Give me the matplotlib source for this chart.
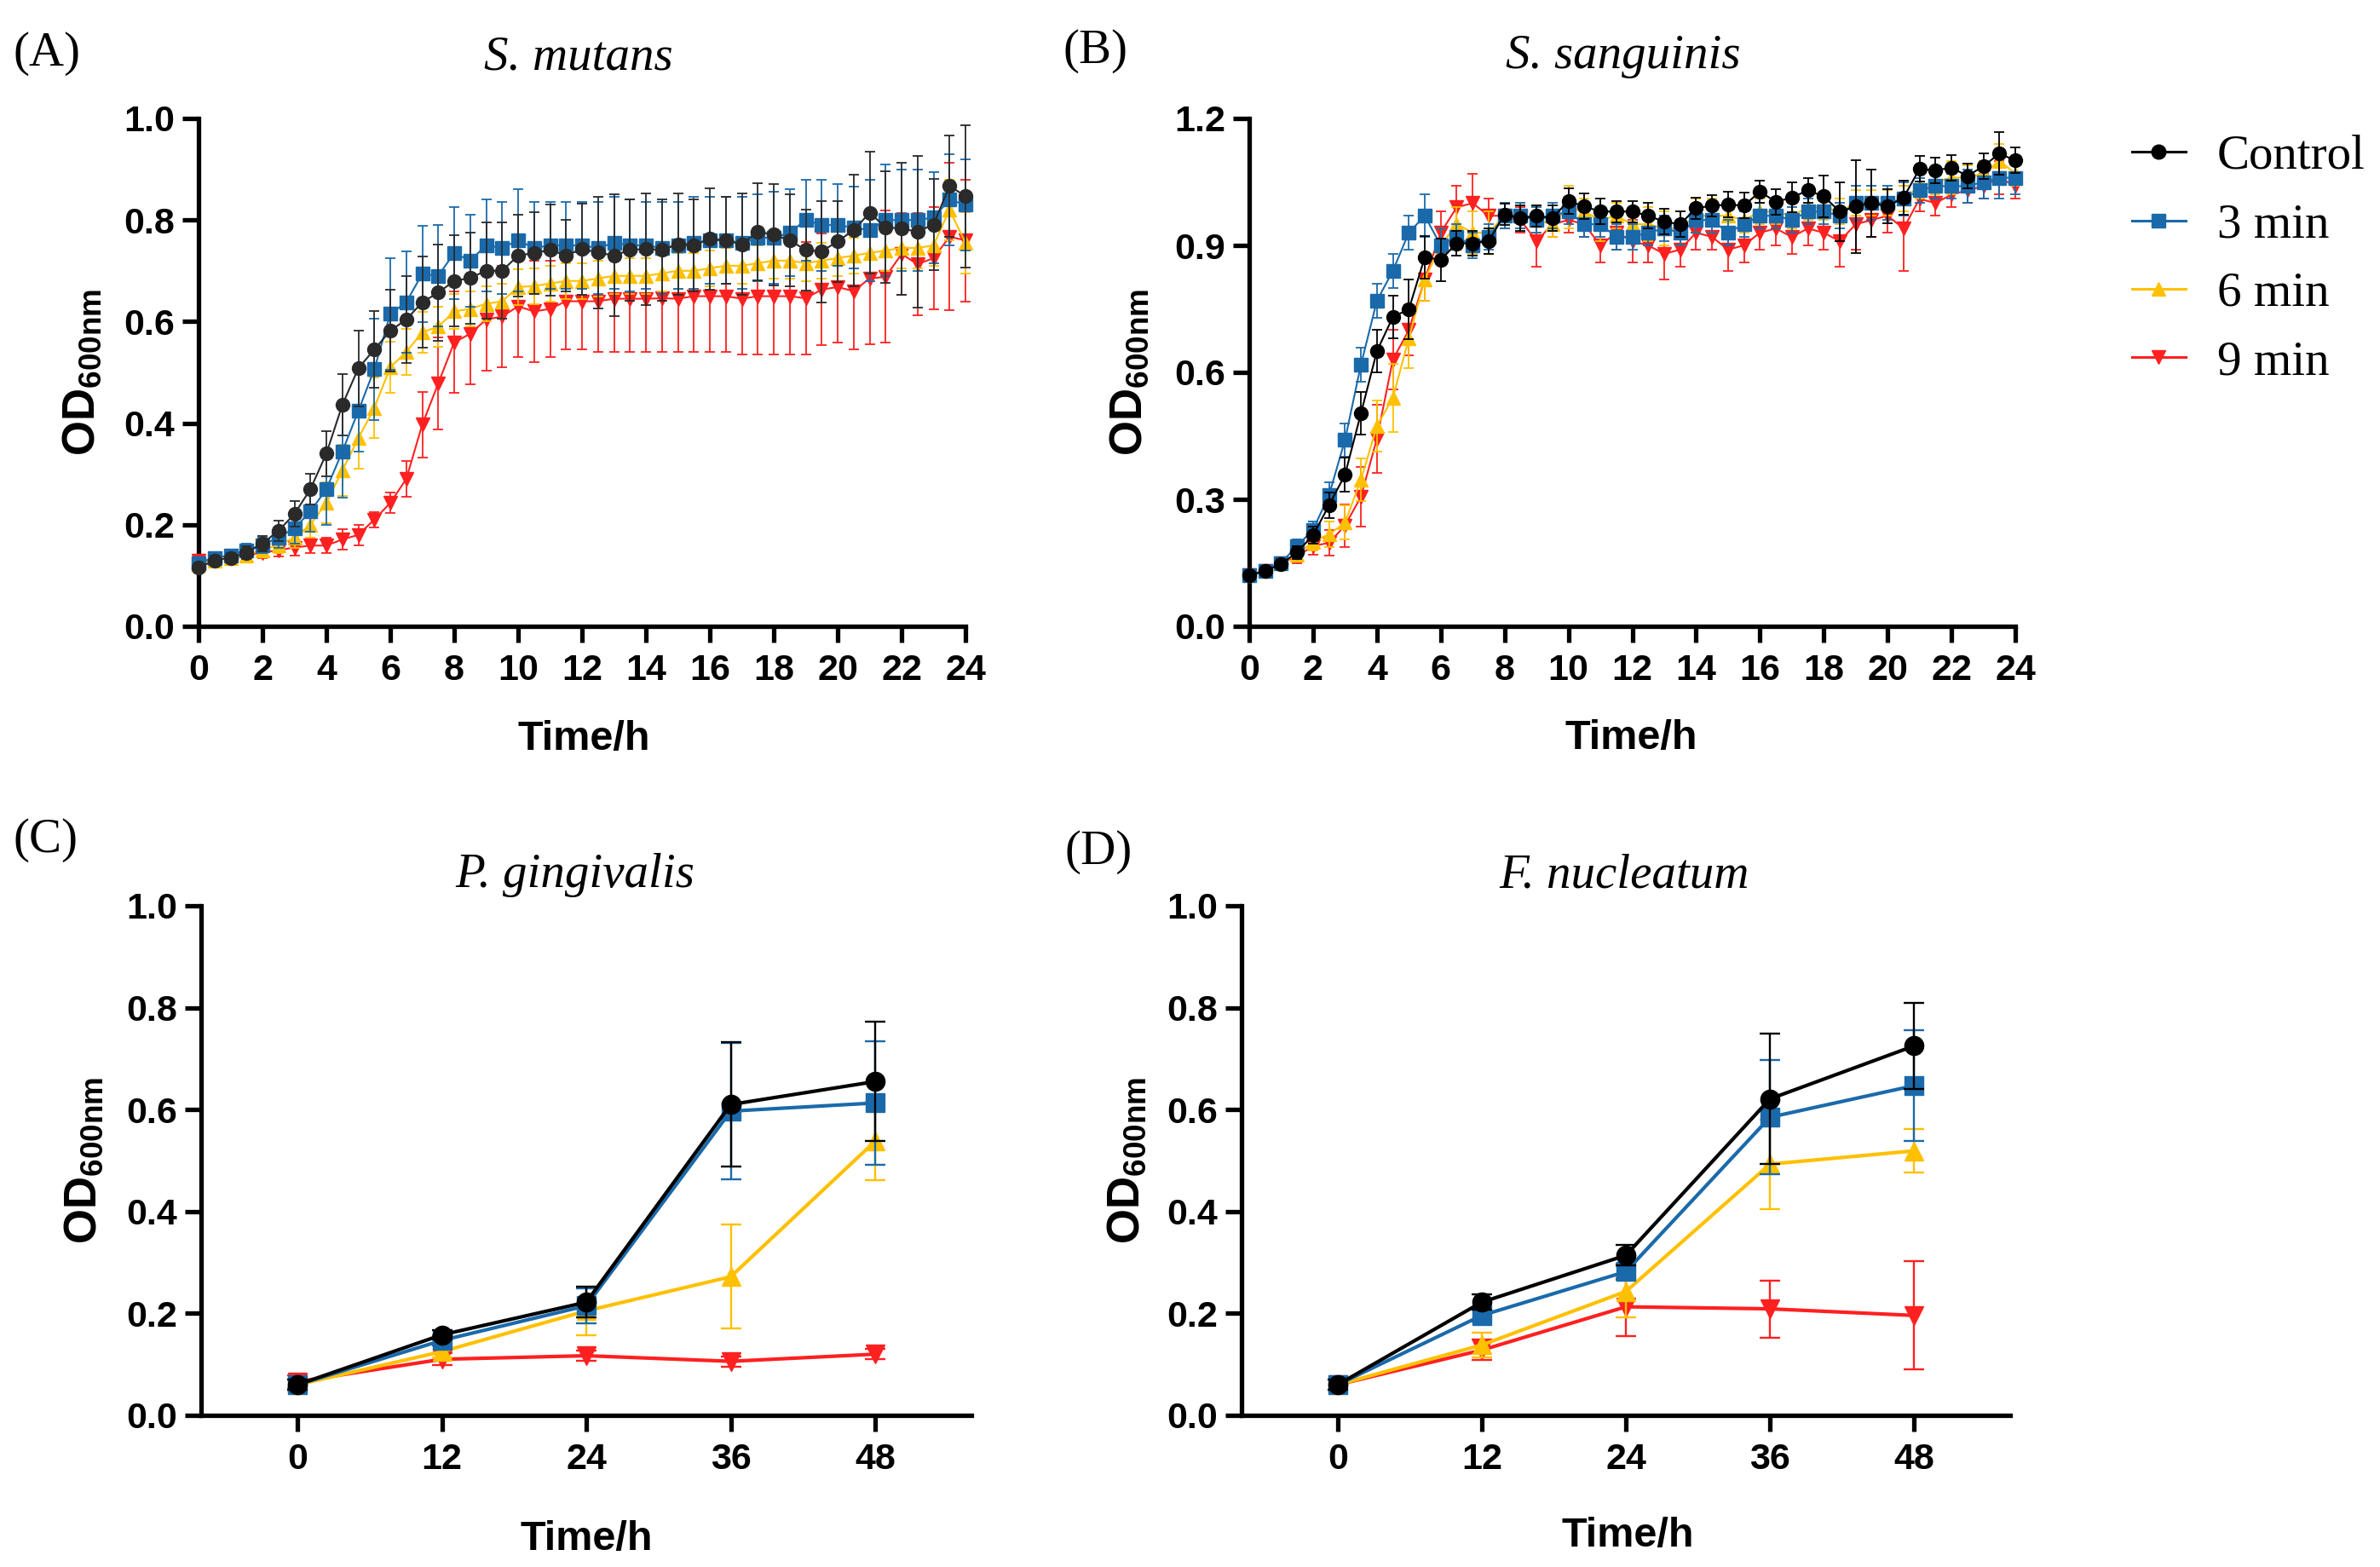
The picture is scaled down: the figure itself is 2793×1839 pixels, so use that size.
import matplotlib
matplotlib.use("Agg")
import matplotlib.pyplot as plt
from matplotlib.lines import Line2D
from matplotlib.ticker import FormatStrFormatter

SERIES = ["Control", "3 min", "6 min", "9 min"]
COLORS = ["#000000", "#1a6aab", "#ffc000", "#ff2020"]
MARKERS = ["o", "s", "^", "v"]

# sampling times (h)
hours_ab = [0, 0.5, 1, 1.5, 2, 2.5, 3, 3.5, 4, 4.5, 5, 5.5, 6, 6.5, 7, 7.5, 8, 8.5, 9, 9.5,
            10, 10.5, 11, 11.5, 12, 12.5, 13, 13.5, 14, 14.5, 15, 15.5, 16, 16.5, 17, 17.5,
            18, 18.5, 19, 19.5, 20, 20.5, 21, 21.5, 22, 22.5, 23, 23.5, 24]
hours_cd = [0, 12, 24, 36, 48]

# (A) S. mutans
mut_ctrl = [0.115, 0.130, 0.135, 0.145, 0.163, 0.188, 0.221, 0.270, 0.340, 0.436,
            0.508, 0.545, 0.582, 0.604, 0.638, 0.657, 0.680, 0.686, 0.700, 0.700,
            0.730, 0.735, 0.741, 0.730, 0.743, 0.736, 0.730, 0.741, 0.743, 0.741,
            0.752, 0.750, 0.763, 0.760, 0.752, 0.777, 0.771, 0.760, 0.741, 0.738,
            0.758, 0.780, 0.814, 0.786, 0.783, 0.777, 0.791, 0.867, 0.847]
mut_ctrl_sd = [0.010, 0.010, 0.010, 0.012, 0.015, 0.020, 0.025, 0.030, 0.045, 0.060,
               0.075, 0.075, 0.080, 0.085, 0.090, 0.095, 0.090, 0.090, 0.095, 0.095,
               0.080, 0.080, 0.090, 0.070, 0.090, 0.110, 0.120, 0.100, 0.110, 0.100,
               0.100, 0.090, 0.100, 0.085, 0.100, 0.095, 0.100, 0.090, 0.080, 0.100,
               0.080, 0.110, 0.120, 0.110, 0.130, 0.150, 0.090, 0.100, 0.140]
mut_3 = [0.125, 0.135, 0.140, 0.150, 0.160, 0.175, 0.193, 0.226, 0.270, 0.344,
         0.424, 0.506, 0.615, 0.638, 0.694, 0.690, 0.735, 0.720, 0.750, 0.745,
         0.760, 0.745, 0.750, 0.750, 0.750, 0.745, 0.755, 0.750, 0.750, 0.745,
         0.750, 0.755, 0.760, 0.760, 0.755, 0.765, 0.765, 0.775, 0.800, 0.790,
         0.790, 0.785, 0.780, 0.800, 0.800, 0.800, 0.805, 0.840, 0.830]
mut_3_sd = [0.010, 0.010, 0.010, 0.012, 0.015, 0.020, 0.030, 0.040, 0.070, 0.090,
            0.080, 0.100, 0.110, 0.100, 0.095, 0.100, 0.090, 0.090, 0.090, 0.090,
            0.100, 0.090, 0.085, 0.085, 0.085, 0.090, 0.090, 0.090, 0.085, 0.090,
            0.085, 0.090, 0.085, 0.085, 0.090, 0.085, 0.090, 0.085, 0.080, 0.090,
            0.080, 0.080, 0.100, 0.110, 0.100, 0.100, 0.090, 0.090, 0.090]
mut_6 = [0.120, 0.130, 0.135, 0.140, 0.150, 0.160, 0.175, 0.200, 0.243, 0.307,
         0.370, 0.430, 0.510, 0.540, 0.579, 0.590, 0.620, 0.625, 0.635, 0.640,
         0.668, 0.670, 0.675, 0.680, 0.680, 0.685, 0.690, 0.690, 0.690, 0.695,
         0.700, 0.700, 0.705, 0.710, 0.710, 0.715, 0.720, 0.720, 0.715, 0.720,
         0.725, 0.730, 0.735, 0.740, 0.745, 0.745, 0.750, 0.820, 0.755]
mut_6_sd = [0.010, 0.010, 0.010, 0.010, 0.012, 0.015, 0.020, 0.025, 0.040, 0.050,
            0.060, 0.060, 0.050, 0.045, 0.040, 0.040, 0.035, 0.035, 0.035, 0.035,
            0.035, 0.035, 0.035, 0.035, 0.035, 0.035, 0.035, 0.035, 0.035, 0.035,
            0.035, 0.035, 0.035, 0.035, 0.035, 0.035, 0.035, 0.035, 0.035, 0.035,
            0.035, 0.035, 0.040, 0.040, 0.040, 0.040, 0.040, 0.060, 0.060]
mut_9 = [0.130, 0.130, 0.135, 0.140, 0.145, 0.150, 0.155, 0.159, 0.159, 0.171,
         0.180, 0.210, 0.243, 0.290, 0.397, 0.478, 0.559, 0.576, 0.604, 0.610,
         0.630, 0.620, 0.625, 0.640, 0.640, 0.640, 0.645, 0.645, 0.645, 0.646,
         0.645, 0.650, 0.650, 0.650, 0.645, 0.650, 0.650, 0.650, 0.646, 0.663,
         0.668, 0.660, 0.685, 0.688, 0.733, 0.713, 0.725, 0.767, 0.760]
mut_9_sd = [0.010, 0.010, 0.010, 0.010, 0.010, 0.012, 0.015, 0.015, 0.015, 0.020,
            0.020, 0.015, 0.020, 0.035, 0.065, 0.090, 0.100, 0.100, 0.100, 0.100,
            0.100, 0.100, 0.095, 0.095, 0.095, 0.100, 0.105, 0.105, 0.105, 0.105,
            0.105, 0.110, 0.110, 0.110, 0.110, 0.115, 0.115, 0.115, 0.110, 0.110,
            0.110, 0.115, 0.130, 0.130, 0.080, 0.100, 0.100, 0.145, 0.120]

# (B) S. sanguinis
san_ctrl = [0.121, 0.131, 0.147, 0.175, 0.215, 0.286, 0.358, 0.503, 0.650, 0.731,
            0.749, 0.872, 0.866, 0.905, 0.905, 0.910, 0.973, 0.965, 0.970, 0.965,
            1.005, 0.992, 0.980, 0.980, 0.980, 0.970, 0.956, 0.950, 0.988, 0.994,
            0.996, 0.994, 1.027, 1.003, 1.013, 1.030, 1.016, 0.980, 0.992, 1.000,
            0.992, 1.013, 1.081, 1.077, 1.084, 1.064, 1.087, 1.117, 1.101]
san_ctrl_sd = [0.005, 0.008, 0.010, 0.015, 0.020, 0.030, 0.040, 0.050, 0.050, 0.050,
               0.070, 0.050, 0.050, 0.030, 0.030, 0.030, 0.025, 0.030, 0.025, 0.030,
               0.030, 0.030, 0.030, 0.025, 0.025, 0.030, 0.030, 0.030, 0.025, 0.025,
               0.030, 0.030, 0.027, 0.030, 0.035, 0.030, 0.050, 0.070, 0.110, 0.080,
               0.040, 0.040, 0.030, 0.030, 0.030, 0.030, 0.030, 0.050, 0.030]
san_3 = [0.120, 0.130, 0.150, 0.190, 0.228, 0.310, 0.440, 0.618, 0.769, 0.840,
         0.930, 0.970, 0.900, 0.920, 0.900, 0.920, 0.970, 0.970, 0.960, 0.970,
         0.980, 0.950, 0.950, 0.920, 0.920, 0.930, 0.940, 0.930, 0.960, 0.960,
         0.930, 0.950, 0.970, 0.970, 0.960, 0.980, 0.980, 0.970, 1.000, 1.000,
         1.000, 1.010, 1.030, 1.040, 1.040, 1.040, 1.050, 1.060, 1.060]
san_3_sd = [0.005, 0.008, 0.010, 0.015, 0.020, 0.030, 0.040, 0.040, 0.040, 0.040,
            0.040, 0.050, 0.040, 0.030, 0.030, 0.030, 0.030, 0.030, 0.030, 0.030,
            0.030, 0.030, 0.030, 0.030, 0.030, 0.030, 0.030, 0.030, 0.030, 0.030,
            0.030, 0.030, 0.030, 0.030, 0.030, 0.030, 0.030, 0.030, 0.040, 0.040,
            0.040, 0.040, 0.030, 0.030, 0.030, 0.040, 0.040, 0.050, 0.040]
san_6 = [0.120, 0.130, 0.150, 0.170, 0.200, 0.217, 0.245, 0.346, 0.473, 0.540,
         0.680, 0.820, 0.900, 0.950, 0.930, 0.930, 0.970, 0.970, 0.960, 0.950,
         0.990, 0.980, 0.960, 0.970, 0.950, 0.950, 0.940, 0.940, 0.970, 0.970,
         0.970, 0.960, 0.980, 0.980, 0.970, 0.990, 0.990, 0.980, 1.000, 1.000,
         1.000, 1.010, 1.040, 1.050, 1.060, 1.060, 1.070, 1.100, 1.070]
san_6_sd = [0.005, 0.008, 0.010, 0.015, 0.020, 0.030, 0.040, 0.050, 0.060, 0.080,
            0.070, 0.050, 0.040, 0.040, 0.050, 0.050, 0.030, 0.030, 0.030, 0.030,
            0.050, 0.030, 0.050, 0.030, 0.040, 0.040, 0.040, 0.040, 0.040, 0.040,
            0.030, 0.030, 0.030, 0.030, 0.030, 0.030, 0.030, 0.030, 0.030, 0.030,
            0.030, 0.030, 0.030, 0.030, 0.040, 0.030, 0.030, 0.040, 0.030]
san_9 = [0.120, 0.130, 0.150, 0.165, 0.190, 0.197, 0.238, 0.306, 0.443, 0.630,
         0.700, 0.820, 0.930, 0.990, 1.000, 0.970, 0.970, 0.960, 0.910, 0.950,
         0.960, 0.950, 0.900, 0.930, 0.910, 0.900, 0.880, 0.890, 0.930, 0.920,
         0.890, 0.900, 0.930, 0.940, 0.920, 0.940, 0.930, 0.910, 0.950, 0.960,
         0.970, 0.940, 1.010, 1.000, 1.020, 1.030, 1.040, 1.060, 1.040]
san_9_sd = [0.005, 0.008, 0.010, 0.015, 0.020, 0.030, 0.050, 0.070, 0.080, 0.070,
            0.060, 0.050, 0.050, 0.050, 0.070, 0.040, 0.030, 0.030, 0.060, 0.030,
            0.030, 0.030, 0.040, 0.040, 0.050, 0.040, 0.060, 0.040, 0.040, 0.030,
            0.050, 0.040, 0.040, 0.040, 0.040, 0.040, 0.040, 0.060, 0.060, 0.040,
            0.040, 0.100, 0.030, 0.030, 0.030, 0.030, 0.030, 0.040, 0.030]

# (C) P. gingivalis
gin_ctrl = [0.060, 0.158, 0.222, 0.610, 0.655]
gin_ctrl_sd = [0.010, 0.010, 0.030, 0.122, 0.117]
gin_3 = [0.060, 0.147, 0.215, 0.597, 0.613]
gin_3_sd = [0.010, 0.010, 0.035, 0.133, 0.121]
gin_6 = [0.060, 0.125, 0.205, 0.272, 0.538]
gin_6_sd = [0.010, 0.012, 0.048, 0.102, 0.077]
gin_9 = [0.066, 0.110, 0.117, 0.106, 0.120]
gin_9_sd = [0.012, 0.012, 0.010, 0.010, 0.010]

# (D) F. nucleatum
nuc_ctrl = [0.060, 0.222, 0.314, 0.621, 0.725]
nuc_ctrl_sd = [0.010, 0.015, 0.020, 0.128, 0.085]
nuc_3 = [0.060, 0.196, 0.282, 0.585, 0.647]
nuc_3_sd = [0.010, 0.012, 0.016, 0.112, 0.109]
nuc_6 = [0.060, 0.138, 0.243, 0.493, 0.519]
nuc_6_sd = [0.010, 0.025, 0.050, 0.088, 0.043]
nuc_9 = [0.060, 0.128, 0.213, 0.209, 0.196]
nuc_9_sd = [0.010, 0.020, 0.057, 0.056, 0.106]

SANS = "Liberation Sans"
SERIF = "Liberation Serif"
plt.rcParams["font.family"] = SANS
plt.rcParams["font.weight"] = "bold"
plt.rcParams["mathtext.fontset"] = "custom"
plt.rcParams["mathtext.bf"] = "Liberation Sans:bold"
plt.rcParams["mathtext.rm"] = "Liberation Sans:bold"

W, H = 2793, 1839
fig = plt.figure(figsize=(W / 100, H / 100), dpi=100)


def px_axes(left, right, top, bottom):
    return fig.add_axes([left / W, 1 - bottom / H, (right - left) / W, (bottom - top) / H])


def style_axes(ax, xticks, yticks, xlim, ylim):
    ax.set_xlim(*xlim)
    ax.set_ylim(*ylim)
    ax.set_xticks(xticks)
    ax.set_yticks(yticks)
    ax.yaxis.set_major_formatter(FormatStrFormatter("%.1f"))
    for s in ["top", "right"]:
        ax.spines[s].set_visible(False)
    for s in ["left", "bottom"]:
        ax.spines[s].set_linewidth(3.8)
    ax.tick_params(direction="out", length=14, width=3.8, labelsize=31)
    ax.tick_params(axis="x", pad=9)
    ax.tick_params(axis="y", pad=6)


def draw_series(ax, x, groups, ms, lw, elw, cap, colors):
    # 9 min first so that Control sits on top
    for k in [3, 2, 1, 0]:
        y, sd = groups[k]
        ax.errorbar(x, y, yerr=sd, color=colors[k], marker=MARKERS[k], ms=ms,
                    mec=colors[k], lw=lw, elinewidth=elw, capsize=cap, capthick=elw,
                    clip_on=False, zorder=3 + (3 - k))


colors_a = ["#2a2a2a"] + COLORS[1:]

ax_a = px_axes(233, 1133, 139, 735)
draw_series(ax_a, hours_ab, [(mut_ctrl, mut_ctrl_sd), (mut_3, mut_3_sd), (mut_6, mut_6_sd),
                             (mut_9, mut_9_sd)], 11.5, 1.5, 1.3, 4, colors_a)
style_axes(ax_a, range(0, 25, 2), [0.0, 0.2, 0.4, 0.6, 0.8, 1.0], (0, 24), (0, 1.0))

ax_b = px_axes(1466, 2365, 139, 735)
draw_series(ax_b, hours_ab, [(san_ctrl, san_ctrl_sd), (san_3, san_3_sd), (san_6, san_6_sd),
                             (san_9, san_9_sd)], 11.5, 1.5, 1.3, 4, COLORS)
style_axes(ax_b, range(0, 25, 2), [0.0, 0.3, 0.6, 0.9, 1.2], (0, 24), (0, 1.2))

ax_c = px_axes(236, 1140, 1063, 1661)
draw_series(ax_c, hours_cd, [(gin_ctrl, gin_ctrl_sd), (gin_3, gin_3_sd), (gin_6, gin_6_sd),
                             (gin_9, gin_9_sd)], 16, 3, 1.7, 8.5, COLORS)
style_axes(ax_c, hours_cd, [0.0, 0.2, 0.4, 0.6, 0.8, 1.0], (-8, 56), (0, 1.0))

ax_d = px_axes(1457, 2359, 1063, 1661)
draw_series(ax_d, hours_cd, [(nuc_ctrl, nuc_ctrl_sd), (nuc_3, nuc_3_sd), (nuc_6, nuc_6_sd),
                             (nuc_9, nuc_9_sd)], 16, 3, 1.7, 8.5, COLORS)
style_axes(ax_d, hours_cd, [0.0, 0.2, 0.4, 0.6, 0.8, 1.0], (-8, 56), (0, 1.0))

# panel texts, positioned in pixels
ylab = r"$\mathbf{OD}_{\mathbf{600nm}}$"
for x, y in [(97, 437), (1326, 437), (99, 1362), (1323, 1362)]:
    fig.text(x / W, 1 - y / H, ylab, rotation=90, ha="center", va="center", fontsize=38)
for x, y in [(685, 868), (1914, 867), (688, 1806), (1910, 1803)]:
    fig.text(x / W, 1 - y / H, "Time/h", ha="center", va="center", fontsize=35)
titles = ["S. mutans", "S. sanguinis", "P. gingivalis", "F. nucleatum"]
for t, (x, y) in zip(titles, [(679, 82), (1905, 80), (675, 1041), (1906, 1041)]):
    fig.text(x / W, 1 - y / H, t, ha="center", va="baseline", fontsize=41,
             fontfamily=SERIF, fontstyle="italic", fontweight="normal")
for t, (x, y) in zip(["(A)", "(B)", "(C)", "(D)"], [(15, 63), (1247, 60), (15, 986), (1250, 1000)]):
    fig.text(x / W, 1 - y / H, t, ha="left", va="center", fontsize=41,
             fontfamily=SERIF, fontweight="normal")

handles = [Line2D([], [], color=c, marker=m, ms=12, mec=c, lw=2.2)
           for c, m in zip(COLORS, MARKERS)]
fig.legend(handles, SERIES, loc="upper left", bbox_to_anchor=(2502 / W, 1 - 158 / H),
           frameon=False, prop={"family": SERIF, "size": 41, "weight": "normal"},
           handlelength=1.1, handletextpad=0.65, labelspacing=0.5, borderpad=0,
           borderaxespad=0)

fig.savefig("out.png", dpi=100)
